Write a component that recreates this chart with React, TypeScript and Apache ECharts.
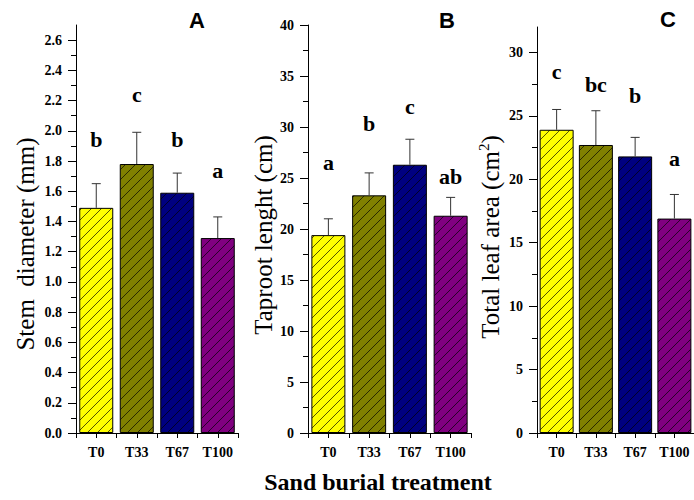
import React, { useEffect, useRef } from 'react';
import * as echarts from 'echarts';

const categories = ['T0', 'T33', 'T67', 'T100'];
const barColors = ['#FFFF00', '#808000', '#000080', '#800080'];

// Panel A: stem diameter (mm)
const stemMean = [1.49, 1.78, 1.59, 1.29];
const stemUpper = [1.65, 1.99, 1.72, 1.43];
const stemLetters = ['b', 'c', 'b', 'a'];
const stemLetterPos = [1.94, 2.24, 1.94, 1.74];
const stemTicks = [0, 0.2, 0.4, 0.6, 0.8, 1.0, 1.2, 1.4, 1.6, 1.8, 2.0, 2.2, 2.4, 2.6];
const stemMinor = [0.1, 0.3, 0.5, 0.7, 0.9, 1.1, 1.3, 1.5, 1.7, 1.9, 2.1, 2.3, 2.5];

// Panel B: taproot length (cm)
const rootMean = [19.4, 23.3, 26.3, 21.3];
const rootUpper = [21.0, 25.5, 28.8, 23.1];
const rootLetters = ['a', 'b', 'c', 'ab'];
const rootLetterPos = [26.5, 30.3, 32.0, 25.1];
const rootTicks = [0, 5, 10, 15, 20, 25, 30, 35, 40];
const rootMinor = [2.5, 7.5, 12.5, 17.5, 22.5, 27.5, 32.5, 37.5];

// Panel C: total leaf area (cm2)
const leafMean = [23.9, 22.7, 21.8, 16.9];
const leafUpper = [25.5, 25.4, 23.3, 18.8];
const leafLetters = ['c', 'bc', 'b', 'a'];
const leafLetterPos = [28.5, 27.5, 26.6, 21.6];
const leafTicks = [0, 5, 10, 15, 20, 25, 30];
const leafMinor = [2.5, 7.5, 12.5, 17.5, 22.5, 27.5];

const SERIF = 'Liberation Serif';
const SANS = 'Liberation Sans';
const BAR_W = 34;
const HATCH_STEP = 10;

const panels = [
  { mean: stemMean, upper: stemUpper, letters: stemLetters, letterPos: stemLetterPos, ticks: stemTicks, minor: stemMinor, max: 2.7, interval: 0.2, fmt: (v: number) => v.toFixed(1), grid: { left: 76, top: 25, width: 162, height: 408 } },
  { mean: rootMean, upper: rootUpper, letters: rootLetters, letterPos: rootLetterPos, ticks: rootTicks, minor: rootMinor, max: 40, interval: 5, fmt: (v: number) => String(v), grid: { left: 308, top: 25, width: 163, height: 408 } },
  { mean: leafMean, upper: leafUpper, letters: leafLetters, letterPos: leafLetterPos, ticks: leafTicks, minor: leafMinor, max: 32, interval: 5, fmt: (v: number) => String(v), grid: { left: 537, top: 27, width: 162, height: 406 } },
];

export default function App() {
  const ref = useRef<HTMLDivElement>(null);
  useEffect(() => {
    document.body.style.margin = '0';
    const chart = echarts.init(ref.current!, undefined, { renderer: 'svg' });
    const grid: any[] = [];
    const xAxis: any[] = [];
    const yAxis: any[] = [];
    const series: any[] = [];
    panels.forEach((p, k) => {
      grid.push({ ...p.grid, containLabel: false });
      xAxis.push({
        type: 'category', gridIndex: k, data: categories, position: 'bottom',
        axisLine: { show: true, lineStyle: { color: '#000', width: 1 } },
        axisTick: { show: true, alignWithLabel: true, length: 5, lineStyle: { color: '#000' } },
        axisLabel: { interval: 0, fontFamily: SERIF, fontWeight: 'bold', fontSize: 14, color: '#000', margin: 12 },
      });
      xAxis.push({
        type: 'category', gridIndex: k, data: categories, position: 'bottom',
        axisLine: { show: false },
        axisTick: { show: true, interval: 0, length: 5, lineStyle: { color: '#000' } },
        axisLabel: { show: false },
      });
      yAxis.push({
        type: 'value', gridIndex: k, min: 0, max: p.max, interval: p.interval, position: 'left',
        axisLine: { show: true, lineStyle: { color: '#000', width: 1 } },
        axisTick: { show: true, length: 8, customValues: p.ticks, lineStyle: { color: '#000' } },
        axisLabel: { showMaxLabel: p.ticks[p.ticks.length - 1] === p.max, formatter: p.fmt, fontFamily: SERIF, fontWeight: 'bold', fontSize: 14, color: '#000', margin: 14 },
        splitLine: { show: false },
      });
      yAxis.push({
        type: 'value', gridIndex: k, min: 0, max: p.max, position: 'left',
        axisLine: { show: false },
        axisTick: { show: true, length: 5, customValues: p.minor, lineStyle: { color: '#000' } },
        axisLabel: { show: false },
        splitLine: { show: false },
      });
      series.push({
        type: 'bar', xAxisIndex: 2 * k, yAxisIndex: 2 * k, barWidth: BAR_W,
        itemStyle: { borderColor: '#000', borderWidth: 1 },
        data: p.mean.map((v, i) => ({ value: v, itemStyle: { color: barColors[i] } })),
      });
      // diagonal "/" hatching over each bar
      series.push({
        type: 'custom', xAxisIndex: 2 * k, yAxisIndex: 2 * k, clip: false, z: 4, silent: true,
        data: p.mean.map((m, i) => [i, m]),
        renderItem: (params: any, api: any) => {
          const top = api.coord([api.value(0), api.value(1)]);
          const base = api.coord([api.value(0), 0]);
          const x0 = top[0] - BAR_W / 2 + 0.5, x1 = top[0] + BAR_W / 2 - 0.5;
          const y0 = top[1] + 0.5, y1 = base[1] - 0.5;
          const children: any[] = [];
          const cStart = Math.ceil((x0 + y0) / HATCH_STEP) * HATCH_STEP;
          for (let c = cStart; c <= x1 + y1; c += HATCH_STEP) {
            const xa = Math.max(x0, c - y1);
            const xb = Math.min(x1, c - y0);
            if (xb - xa > 0.5) {
              children.push({ type: 'line', shape: { x1: xa, y1: c - xa, x2: xb, y2: c - xb }, style: { stroke: 'rgba(0,0,0,0.85)', lineWidth: 0.8 } });
            }
          }
          return { type: 'group', children };
        },
      });
      series.push({
        type: 'custom', xAxisIndex: 2 * k, yAxisIndex: 2 * k, clip: false, z: 5,
        data: p.mean.map((m, i) => [i, m, p.upper[i]]),
        renderItem: (params: any, api: any) => {
          const a = api.coord([api.value(0), api.value(1)]);
          const b = api.coord([api.value(0), api.value(2)]);
          const st = { stroke: '#333', lineWidth: 1 };
          return {
            type: 'group',
            children: [
              { type: 'line', shape: { x1: a[0], y1: a[1], x2: b[0], y2: b[1] }, style: st },
              { type: 'line', shape: { x1: b[0] - 4.5, y1: b[1], x2: b[0] + 4.5, y2: b[1] }, style: st },
            ],
          };
        },
      });
      series.push({
        type: 'custom', xAxisIndex: 2 * k, yAxisIndex: 2 * k, clip: false, z: 6,
        data: p.letterPos.map((y, i) => [i, y]),
        renderItem: (params: any, api: any) => {
          const c = api.coord([api.value(0), api.value(1)]);
          return {
            type: 'text', x: c[0], y: c[1],
            style: { text: p.letters[params.dataIndex], align: 'center', verticalAlign: 'middle', fontFamily: SERIF, fontWeight: 'bold', fontSize: 22, fill: '#000' },
          };
        },
      });
    });

    const txt = (text: string, x: number, y: number, family: string, size: number, weight: string, rotation = 0, rich?: any) => ({
      type: 'text', x, y, rotation,
      style: { text, align: 'center', verticalAlign: 'middle', fontFamily: family, fontSize: size, fontWeight: weight, fill: '#000', ...(rich ? { rich } : {}) },
    });

    const graphic: any[] = [
      txt('A', 197, 20, SANS, 22, 'bold'),
      txt('B', 447, 20, SANS, 22, 'bold'),
      txt('C', 668, 19, SANS, 22, 'bold'),
      txt('Sand burial treatment', 378, 482, SERIF, 24, 'bold'),
      txt('Stem  diameter (mm)', 25, 244, SERIF, 25, 'normal', Math.PI / 2),
      txt('Taproot lenght (cm)', 263, 235, SERIF, 25, 'normal', Math.PI / 2),
      txt('Total leaf area (cm{sup|2})', 490, 237, SERIF, 25, 'normal', Math.PI / 2, {
        sup: { fontFamily: SERIF, fontSize: 15, fill: '#000', padding: [0, 0, 12, 0] },
      }),
    ];

    chart.setOption({ animation: false, backgroundColor: '#fff', grid, xAxis, yAxis, series, graphic });
    return () => chart.dispose();
  }, []);
  return <div ref={ref} style={{ width: 694, height: 500 }} />;
}
